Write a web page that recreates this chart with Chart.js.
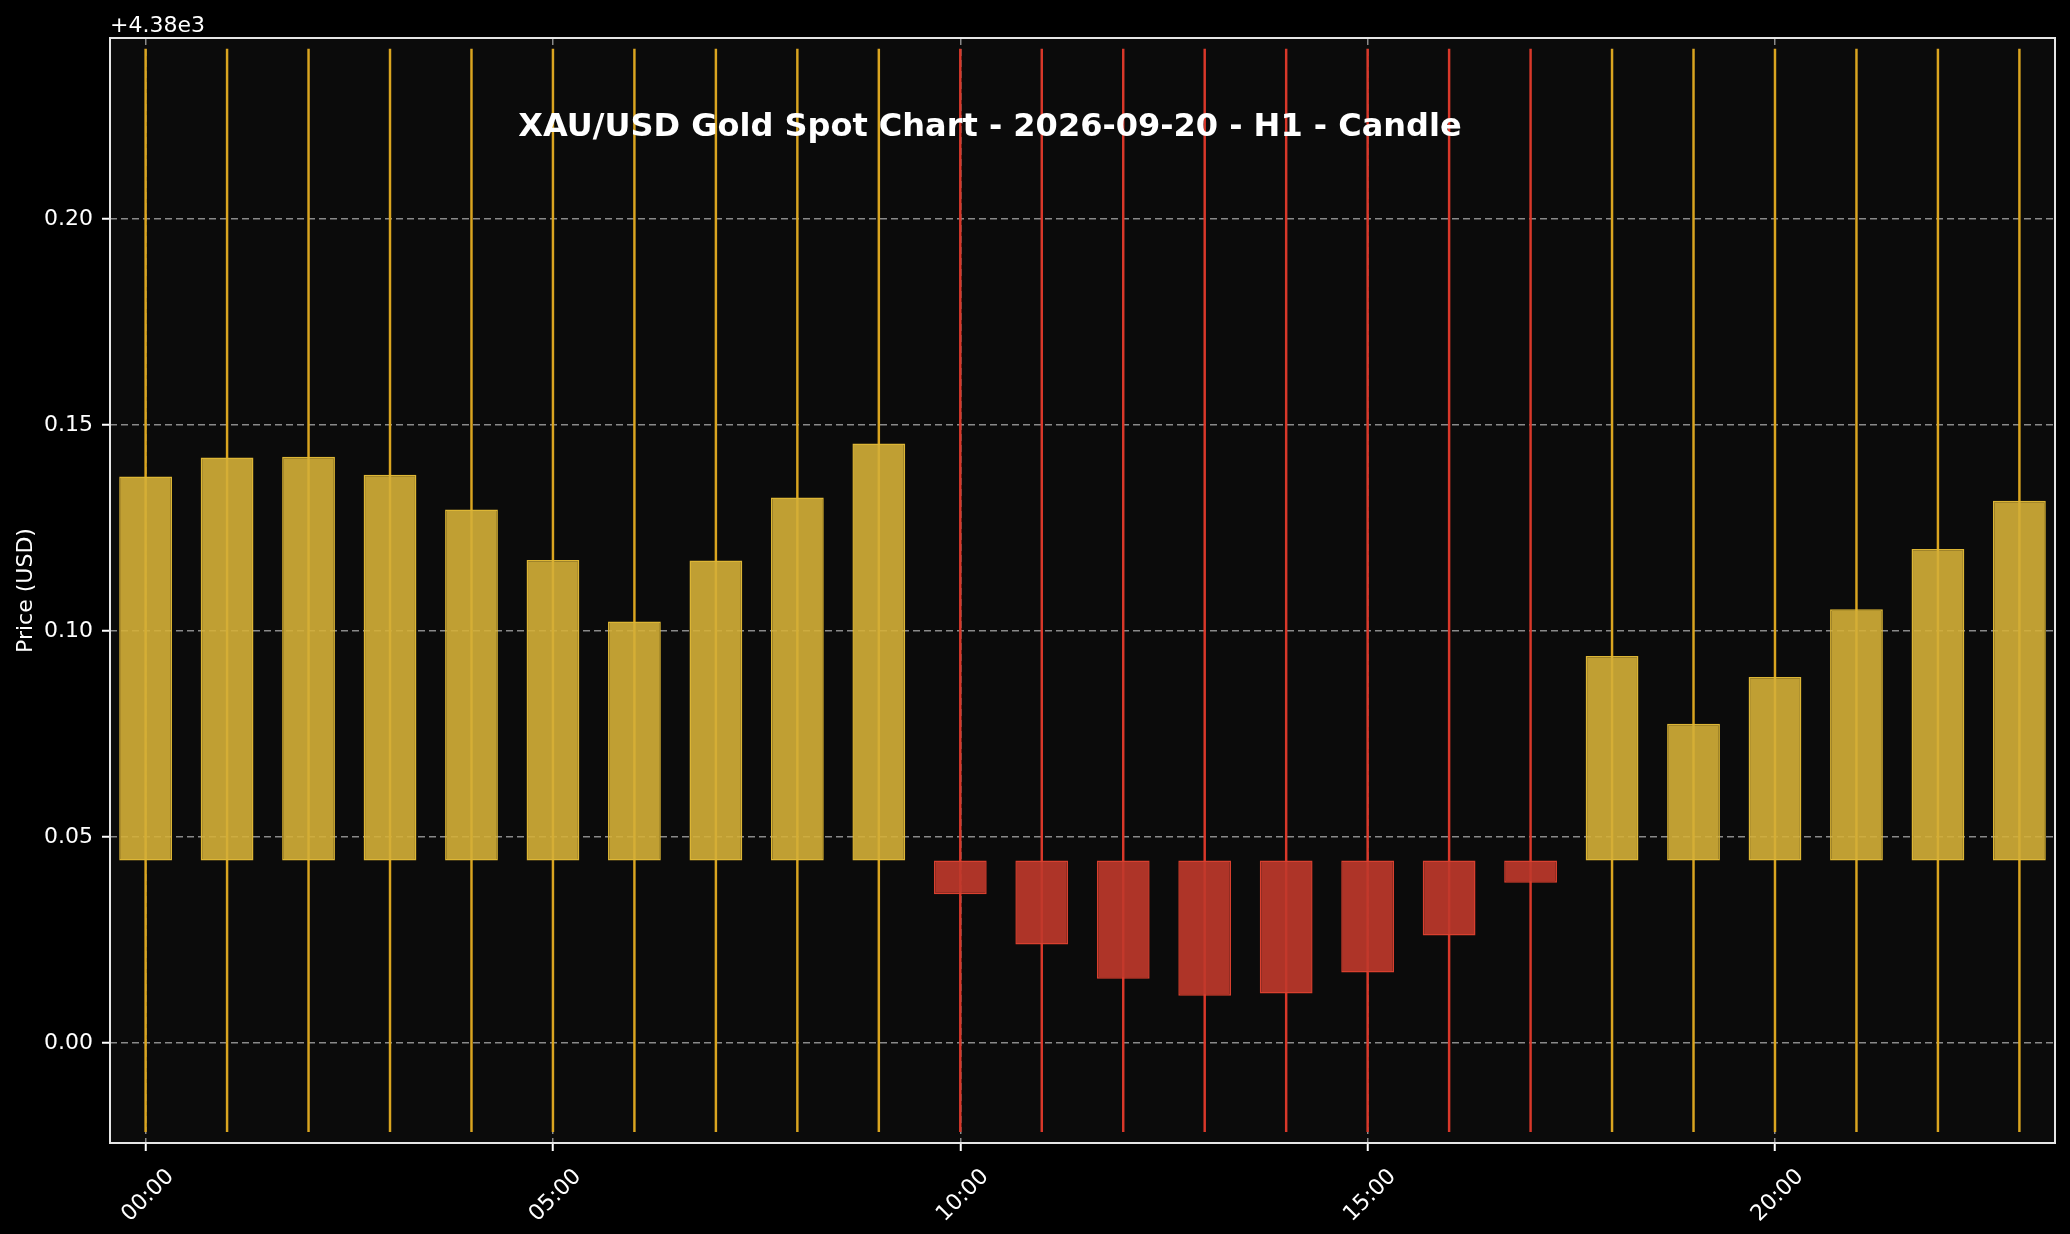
<!DOCTYPE html>
<html>
<head>
<meta charset="utf-8">
<script src="https://cdn.jsdelivr.net/npm/chart.js@4.4.1/dist/chart.umd.min.js"></script>
<style>
html,body{margin:0;padding:0;background:#000;overflow:hidden}
canvas{display:block}
</style>
</head>
<body>
<canvas id="c" width="2070" height="1234" style="width:2070px;height:1234px"></canvas>
<script>
// ---- data ----
const hours  = [0,1,2,3,4,5,6,7,8,9,10,11,12,13,14,15,16,17,18,19,20,21,22,23];
const opens  = [4380.0443,4380.0443,4380.0443,4380.0443,4380.0443,4380.0443,4380.0443,4380.0443,
                4380.0443,4380.0443,4380.0443,4380.0443,4380.0443,4380.0443,4380.0443,4380.0443,
                4380.0443,4380.0443,4380.0443,4380.0443,4380.0443,4380.0443,4380.0443,4380.0443];
const closes = [4380.1375,4380.1421,4380.1423,4380.1379,4380.1295,4380.1172,4380.1023,4380.1171,
                4380.1324,4380.1455,4380.0361,4380.0239,4380.0156,4380.0115,4380.0120,4380.0171,
                4380.0261,4380.0389,4380.0939,4380.0775,4380.0888,4380.1053,4380.1199,4380.1316];
const highs  = [4380.2412,4380.2412,4380.2412,4380.2412,4380.2412,4380.2412,4380.2412,4380.2412,
                4380.2412,4380.2412,4380.2412,4380.2412,4380.2412,4380.2412,4380.2412,4380.2412,
                4380.2412,4380.2412,4380.2412,4380.2412,4380.2412,4380.2412,4380.2412,4380.2412];
const lows   = [4379.9785,4379.9785,4379.9785,4379.9785,4379.9785,4379.9785,4379.9785,4379.9785,
                4379.9785,4379.9785,4379.9785,4379.9785,4379.9785,4379.9785,4379.9785,4379.9785,
                4379.9785,4379.9785,4379.9785,4379.9785,4379.9785,4379.9785,4379.9785,4379.9785];
const xTickHours  = [0,5,10,15,20];
const xTickLabels = ['00:00','05:00','10:00','15:00','20:00'];
const yTickValues = [4380.00,4380.05,4380.10,4380.15,4380.20];
const yTickLabels = ['0.00','0.05','0.10','0.15','0.20'];
const priceOffsetLabel = '+4.38e3';
const chartTitle = 'XAU/USD Gold Spot Chart - 2026-09-20 - H1 - Candle';
const yAxisTitle = 'Price (USD)';

// ---- styles ----
const FONT = "'DejaVu Sans', 'Liberation Sans', sans-serif";
const UP_FILL = 'rgba(212,175,55,0.9)', UP_EDGE = '#DDB635', UP_WICK = '#DAA520';
const DN_FILL = 'rgba(192,57,43,0.9)', DN_EDGE = '#D9402F', DN_WICK = '#D9382A';
const isUp = hours.map((h,i) => closes[i] >= opens[i]);

const bodyData = hours.map((h,i) => ({x:h, y:[opens[i], closes[i]]}));
const wickData = hours.map((h,i) => ({x:h, y:[lows[i], highs[i]]}));

const decor = {
  id: 'decor',
  beforeDraw(chart) {
    const {ctx, chartArea:a} = chart;
    ctx.save();
    ctx.fillStyle = '#000';
    ctx.fillRect(0, 0, chart.width, chart.height);
    ctx.fillStyle = '#0b0b0b';
    ctx.fillRect(a.left, a.top, a.right - a.left, a.bottom - a.top);
    ctx.restore();
  },
  afterDraw(chart) {
    const {ctx, chartArea:a} = chart;
    ctx.save();
    ctx.strokeStyle = '#e6e6e6';
    ctx.lineWidth = 2;
    ctx.strokeRect(a.left, a.top, a.right - a.left, a.bottom - a.top);
    ctx.fillStyle = '#ffffff';
    ctx.font = 'bold 32px ' + FONT;
    ctx.textAlign = 'center';
    ctx.textBaseline = 'alphabetic';
    ctx.fillText(chartTitle, 990, 136);
    ctx.font = '22px ' + FONT;
    ctx.textAlign = 'left';
    ctx.fillText(priceOffsetLabel, a.left, 32);
    ctx.restore();
  }
};

new Chart(document.getElementById('c'), {
  type: 'bar',
  data: {
    datasets: [
      {
        label: 'body',
        data: bodyData,
        order: 0,
        grouped: false,
        categoryPercentage: 1.0,
        barPercentage: 0.648,
        backgroundColor: isUp.map(u => u ? UP_FILL : DN_FILL),
        borderColor: isUp.map(u => u ? UP_EDGE : DN_EDGE),
        borderWidth: 1.5,
        borderSkipped: false
      },
      {
        label: 'wick',
        data: wickData,
        order: 1,
        grouped: false,
        categoryPercentage: 1.0,
        barPercentage: 1.0,
        maxBarThickness: 1.8,
        backgroundColor: isUp.map(u => u ? UP_WICK : DN_WICK),
        borderWidth: 0,
        borderSkipped: false
      }
    ]
  },
  options: {
    responsive: false,
    animation: false,
    devicePixelRatio: 1,
    layout: { padding: { top: 38, right: 15, left: 0, bottom: 0 } },
    plugins: { legend: { display: false }, tooltip: { enabled: false }, title: { display: false } },
    scales: {
      x: {
        type: 'linear',
        offset: false,
        min: -0.437,
        max: 23.437,
        afterBuildTicks: s => { s.ticks = xTickHours.map(v => ({value: v})); },
        afterFit: s => { s.height = 91; },
        grid: {
          offset: false,
          color: '#8a8a8a', lineWidth: 1.5, drawTicks: true,
          tickLength: 8, tickColor: '#ffffff', tickWidth: 2
        },
        border: { display: false, dash: [7, 4] },
        ticks: {
          autoSkip: false, minRotation: 45, maxRotation: 45,
          labelOffset: 25, padding: 13,
          color: '#ffffff', font: { family: FONT, size: 22 },
          callback: (v) => { const k = xTickHours.indexOf(v); return k >= 0 ? xTickLabels[k] : ''; }
        }
      },
      y: {
        type: 'linear',
        min: 4379.97574,
        max: 4380.2439,
        afterBuildTicks: s => { s.ticks = yTickValues.map(v => ({value: v})); },
        afterFit: s => { s.width = 110; },
        grid: {
          color: '#8a8a8a', lineWidth: 1.5, drawTicks: true,
          tickLength: 8, tickColor: '#ffffff', tickWidth: 2
        },
        border: { display: false, dash: [7, 4] },
        ticks: {
          padding: 9,
          color: '#ffffff', font: { family: FONT, size: 22 },
          callback: (v) => { const k = yTickValues.findIndex(t => Math.abs(t - v) < 1e-6); return k >= 0 ? yTickLabels[k] : ''; }
        },
        title: {
          display: true, text: yAxisTitle, color: '#ffffff',
          font: { family: FONT, size: 22 }, padding: { top: 13, bottom: 0 }
        }
      }
    }
  },
  plugins: [decor]
});
</script>
</body>
</html>
